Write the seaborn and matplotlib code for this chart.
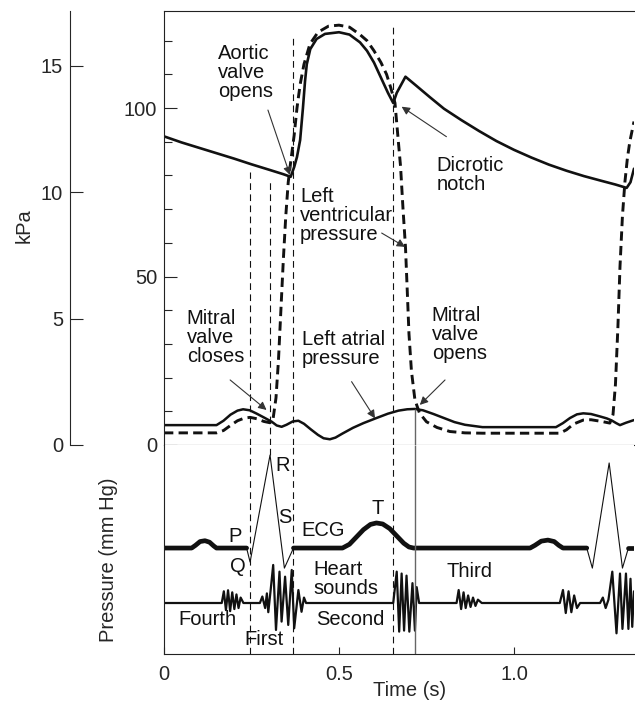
import numpy as np
import pandas as pd
import seaborn as sns
import matplotlib.pyplot as plt

# ---- pressure traces: time (s) and pressure (mm Hg) ----
aortic_t = [0.0, 0.05, 0.10, 0.15, 0.20, 0.25, 0.30, 0.34, 0.362, 0.372, 0.38, 0.389,
            0.397, 0.403, 0.408, 0.418, 0.436, 0.46, 0.50, 0.53, 0.56, 0.58, 0.60,
            0.62, 0.64, 0.655, 0.665, 0.69, 0.72, 0.76, 0.80, 0.85, 0.90, 0.95, 1.00,
            1.05, 1.10, 1.15, 1.20, 1.25, 1.29, 1.322, 1.333, 1.343]
aortic_p = [91.6, 89.8, 88.2, 86.6, 85.0, 83.3, 81.7, 80.4, 79.6, 82.5, 85.5, 90.5,
            100.0, 108.0, 113.0, 117.5, 120.5, 122.0, 122.5, 121.8, 119.5, 117.0, 113.5,
            109.0, 104.5, 101.5, 104.5, 109.3, 106.7, 103.2, 99.8, 96.4, 93.2, 90.2, 87.6,
            85.3, 83.2, 81.4, 79.8, 78.4, 77.3, 76.3, 78.0, 82.0]

lv_t = [0.0, 0.15, 0.17, 0.19, 0.21, 0.23, 0.246, 0.265, 0.285, 0.303, 0.312, 0.32,
        0.327, 0.334, 0.341, 0.348, 0.355, 0.362, 0.372, 0.38, 0.389, 0.40, 0.417,
        0.44, 0.47, 0.50, 0.53, 0.56, 0.58, 0.60, 0.62, 0.636, 0.648, 0.66, 0.668,
        0.676, 0.683, 0.69, 0.695, 0.70, 0.707, 0.717, 0.73, 0.75, 0.78, 0.817, 0.86,
        0.91, 1.131, 1.15, 1.17, 1.198, 1.22, 1.25, 1.274, 1.283, 1.29, 1.297, 1.303,
        1.31, 1.317, 1.324, 1.331, 1.343]
lv_p = [3.6, 3.6, 4.3, 5.8, 7.2, 8.0, 8.2, 7.8, 7.0, 6.6, 8.0, 14.0,
        25.0, 40.0, 55.0, 68.0, 78.0, 84.0, 92.0, 100.0, 107.0, 113.0, 119.0,
        122.5, 124.3, 124.6, 124.0, 121.8, 120.0, 117.0, 113.5, 110.0, 106.0, 101.5, 92.0,
        82.6, 70.0, 58.8, 46.0, 33.0, 22.0, 13.4, 9.5, 6.9, 5.2, 4.0, 3.6,
        3.5, 3.5, 4.5, 6.2, 7.4, 7.5, 7.0, 6.5, 9.0, 18.0, 35.0, 53.0,
        68.0, 78.0, 85.0, 90.0, 96.0]

la_t = [0.0, 0.15, 0.17, 0.19, 0.21, 0.226, 0.245, 0.265, 0.285, 0.308, 0.322, 0.336,
        0.35, 0.368, 0.384, 0.40, 0.42, 0.44, 0.456, 0.474, 0.49, 0.51, 0.54, 0.57,
        0.607, 0.64, 0.67, 0.695, 0.717, 0.74, 0.77, 0.80, 0.83, 0.86, 0.91, 1.12,
        1.14, 1.16, 1.18, 1.198, 1.22, 1.245, 1.265, 1.279, 1.292, 1.303, 1.32, 1.343]
la_p = [5.9, 5.9, 7.2, 9.0, 10.2, 10.6, 10.3, 9.3, 8.2, 6.9, 5.8, 5.4,
        6.0, 7.0, 7.2, 6.3, 4.6, 3.0, 2.0, 1.7, 2.2, 3.4, 5.1, 6.5,
        8.0, 9.3, 10.2, 10.6, 10.7, 10.3, 9.2, 8.0, 6.8, 6.0, 5.3, 5.3,
        6.5, 8.0, 9.1, 9.4, 9.2, 8.5, 7.9, 7.3, 6.5, 5.9, 6.6, 7.4]

# ---- ECG and heart sounds (arbitrary trace units) ----
ecg_t = [0.0, 0.079, 0.09, 0.103, 0.117, 0.13, 0.142, 0.15, 0.236, 0.246, 0.303, 0.344,
         0.370, 0.51, 0.53, 0.55, 0.57, 0.59, 0.607, 0.625, 0.645, 0.665, 0.685, 0.70,
         0.713, 1.046, 1.06, 1.078, 1.097, 1.115, 1.128, 1.14, 1.208, 1.224, 1.272, 1.31,
         1.327, 1.343]
ecg_v = [5.07, 5.07, 5.2, 5.38, 5.42, 5.35, 5.17, 5.07, 5.07, 4.40, 9.52, 4.11,
         5.07, 5.07, 5.25, 5.6, 5.95, 6.2, 6.27, 6.22, 6.0, 5.65, 5.3, 5.12,
         5.07, 5.07, 5.2, 5.4, 5.45, 5.38, 5.2, 5.07, 5.07, 4.11, 9.14, 4.11,
         5.07, 5.07]
qrs_windows = [(0.236, 0.370), (1.208, 1.327)]

sound_t = [0.0, 0.165, 0.171, 0.177, 0.183, 0.189, 0.195, 0.201, 0.207, 0.213, 0.219, 0.227,
           0.274, 0.281, 0.289, 0.294, 0.298, 0.305, 0.312, 0.320, 0.330, 0.336, 0.346,
           0.355, 0.365, 0.372, 0.384, 0.393, 0.400, 0.406,
           0.655, 0.665, 0.672, 0.679, 0.686, 0.693, 0.701, 0.710, 0.717, 0.722, 0.729,
           0.836, 0.842, 0.849, 0.856, 0.862, 0.869, 0.876, 0.883, 0.890, 0.897, 0.908,
           1.131, 1.140, 1.148, 1.156, 1.164, 1.172, 1.180, 1.189,
           1.246, 1.254, 1.262, 1.270, 1.281, 1.293, 1.303, 1.310, 1.320, 1.327, 1.333,
           1.338, 1.343]
sound_v = [2.44, 2.44, 3.0, 2.1, 3.05, 2.05, 2.95, 2.15, 2.85, 2.2, 2.7, 2.44,
           2.44, 2.75, 2.2, 2.9, 2.0, 3.1, 4.26, 1.15, 3.94, 1.55, 3.7,
           1.39, 4.02, 1.23, 3.06, 2.02, 2.7, 2.44,
           2.44, 3.94, 1.07, 3.85, 1.12, 3.75, 1.07, 3.39, 1.12, 3.2, 2.44,
           2.44, 3.06, 2.15, 2.95, 2.2, 2.8, 2.25, 2.7, 2.3, 2.6, 2.44,
           2.44, 3.06, 1.96, 3.0, 2.0, 2.8, 2.2, 2.44,
           2.44, 2.7, 2.2, 2.6, 3.94, 0.99, 3.85, 1.2, 3.85, 1.2, 3.6,
           1.3, 3.0]

# ---- event guides ----
event_t = [0.246, 0.303, 0.369, 0.655]
event_top = [81.0, 79.0, 121.7, 124.6]           # mm Hg where guide starts
event_low_stop = [0.0, 9.52, 0.0, 0.0]            # lower panel: where guide ends
mitral_open_t = 0.717
mitral_open_p = 10.7

# ---- labels ----
top_labels = ["Aortic\nvalve\nopens", "Left\nventricular\npressure", "Dicrotic\nnotch",
              "Mitral\nvalve\ncloses", "Left atrial\npressure", "Mitral\nvalve\nopens"]
top_label_t = [0.154, 0.389, 0.779, 0.065, 0.393, 0.765]
top_label_p = [110.5, 68.0, 80.0, 31.8, 28.5, 32.9]
arrow_tail = [(0.297, 99.4), (0.622, 62.9), (0.807, 91.5), (0.189, 19.3), (0.536, 18.8), (0.803, 19.3)]
arrow_head = [(0.360, 80.1), (0.689, 58.8), (0.679, 100.4), (0.293, 10.4), (0.603, 7.9), (0.731, 11.9)]

low_labels = ["R", "S", "P", "Q", "ECG", "T", "Heart\nsounds", "Third", "Fourth", "First", "Second"]
low_label_t = [0.317, 0.326, 0.183, 0.189, 0.392, 0.593, 0.426, 0.808, 0.041, 0.231, 0.436]
low_label_v = [9.04, 6.55, 5.6, 4.2, 5.93, 6.94, 3.59, 3.97, 1.63, 0.67, 1.63]

x_max = 1.343
p_max = 128.8

sns.set_theme(style="ticks")
plt.rcParams['font.family'] = ['Liberation Sans', 'DejaVu Sans']
ink = '#111111'
fs = 14.5

fig = plt.figure(figsize=(6.35, 7.01), dpi=100)
L, W = 164 / 635, 470 / 635
ax_p = fig.add_axes([L, 1 - 445 / 701, W, 434 / 701])
ax_e = fig.add_axes([L, 1 - 654 / 701, W, 209 / 701])

# pressure curves
sns.lineplot(x=aortic_t, y=aortic_p, ax=ax_p, sort=False, estimator=None, color=ink, lw=1.9)
sns.lineplot(x=la_t, y=la_p, ax=ax_p, sort=False, estimator=None, color=ink, lw=1.8)
sns.lineplot(x=lv_t, y=lv_p, ax=ax_p, sort=False, estimator=None, color=ink, lw=2.1,
             linestyle=(0, (3.2, 1.8)))

for t, top in zip(event_t, event_top):
    ax_p.vlines(t, 0, top, color=ink, lw=0.8, linestyles=(0, (6, 4)))
ax_p.vlines(mitral_open_t, 0, mitral_open_p, color='#666666', lw=1.0)

for txt, t, p in zip(top_labels, top_label_t, top_label_p):
    ax_p.text(t, p, txt, ha='left', va='center', fontsize=fs, linespacing=1.0, color=ink)
for tail, head in zip(arrow_tail, arrow_head):
    ax_p.annotate('', xy=head, xytext=tail,
                  arrowprops=dict(arrowstyle='-|>', color='#333333', lw=0.8, mutation_scale=12,
                                  shrinkA=0, shrinkB=0))

ax_p.set_xlim(0, x_max)
ax_p.set_ylim(0, p_max)
ax_p.set_xticks([])
ax_p.set_yticks([0, 50, 100])
ax_p.set_yticks(np.arange(0, 121, 10), minor=True)
ax_p.tick_params(axis='y', which='major', direction='in', length=9, width=0.8, labelsize=fs, pad=5)
ax_p.tick_params(axis='y', which='minor', direction='in', length=6, width=0.8)
ax_p.set_xlabel('')
ax_p.set_ylabel('')

# kPa axis
sec = ax_p.secondary_yaxis(-0.2, functions=(lambda p: p * 0.133322, lambda k: k / 0.133322))
sec.set_yticks([0, 5, 10, 15])
sec.tick_params(direction='in', length=9, width=0.8, labelsize=fs, pad=5)
sec.spines['left'].set_linewidth(0.8)

# ECG
ecg = pd.DataFrame({'t': ecg_t, 'v': ecg_v})
sns.lineplot(data=ecg, x='t', y='v', ax=ax_e, sort=False, estimator=None, color=ink, lw=0.8)
edges = [0.0] + [w for pair in qrs_windows for w in pair] + [x_max]
for a, b in zip(edges[0::2], edges[1::2]):
    seg = ecg[(ecg.t >= a) & (ecg.t <= b)]
    sns.lineplot(data=seg, x='t', y='v', ax=ax_e, sort=False, estimator=None, color=ink, lw=3.4)

sns.lineplot(x=sound_t, y=sound_v, ax=ax_e, sort=False, estimator=None, color=ink, lw=1.6)

for t, stop in zip(event_t, event_low_stop):
    ax_e.vlines(t, stop, 10, color=ink, lw=0.8, linestyles=(0, (6, 4)))
ax_e.vlines(mitral_open_t, 0, 10, color='#666666', lw=1.0)

for txt, t, v in zip(low_labels, low_label_t, low_label_v):
    ax_e.text(t, v, txt, ha='left', va='center', fontsize=fs, linespacing=1.0, color=ink)

ax_e.set_xlim(0, x_max)
ax_e.set_ylim(0, 10)
ax_e.set_yticks([])
ax_e.set_xticks([0, 0.5, 1.0])
ax_e.set_xticklabels(['0', '0.5', '1.0'])
ax_e.tick_params(axis='x', direction='in', length=5, width=0.8, labelsize=fs, pad=8)
ax_e.set_xlabel('')
ax_e.set_ylabel('')

for ax in (ax_p, ax_e):
    ax.spines['right'].set_visible(False)
    for s in ax.spines.values():
        s.set_linewidth(0.8)
        s.set_color('#222222')
ax_e.spines['top'].set_visible(False)

fig.text(24.5 / 635, 1 - 226 / 701, 'kPa', rotation=90, ha='center', va='center', fontsize=fs)
fig.text(108 / 635, 1 - 560 / 701, 'Pressure (mm Hg)', rotation=90, ha='center', va='center', fontsize=fs)
fig.text(410 / 635, 1 - 690 / 701, 'Time (s)', ha='center', va='center', fontsize=fs)

fig.savefig('out.png', dpi=100)
